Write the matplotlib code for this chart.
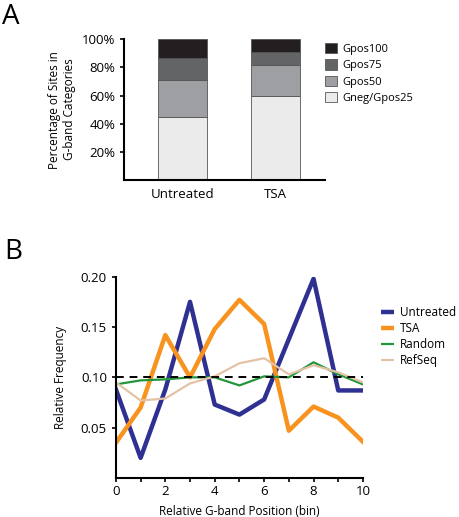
import numpy as np
import matplotlib
matplotlib.use('Agg')
import matplotlib.pyplot as plt
from matplotlib.patches import Patch

plt.rcParams['font.family'] = ['Open Sans', 'DejaVu Sans']
plt.rcParams['font.size'] = 8.5

# panel A data (percent of sites)
groups = ['Untreated', 'TSA']
band_names = ['Gneg/Gpos25', 'Gpos50', 'Gpos75', 'Gpos100']
band_vals = {
    'Gneg/Gpos25': [44.5, 59.6],
    'Gpos50': [26.3, 22.4],
    'Gpos75': [15.9, 9.2],
    'Gpos100': [13.3, 8.8],
}
band_colors = ['#ebebeb', '#9d9fa2', '#636466', '#231f20']

# panel B data
bins = np.arange(11)
untreated = [0.088, 0.020, 0.088, 0.175, 0.073, 0.063, 0.078, 0.138, 0.198, 0.087, 0.087]
tsa = [0.035, 0.070, 0.142, 0.100, 0.148, 0.177, 0.153, 0.047, 0.071, 0.060, 0.036]
random_sites = [0.093, 0.097, 0.098, 0.100, 0.100, 0.092, 0.101, 0.100, 0.115, 0.103, 0.093]
refseq = [0.095, 0.077, 0.079, 0.094, 0.101, 0.114, 0.119, 0.103, 0.112, 0.105, 0.095]
expected = 0.10

fig = plt.figure(figsize=(4.6, 5.17), dpi=100)

# ---- A ----
axA = fig.add_axes([0.27, 0.652, 0.4365, 0.272])
x = np.arange(len(groups))
bottom = np.zeros(len(groups))
for name, c in zip(band_names, band_colors):
    axA.bar(x, band_vals[name], 0.53, bottom=bottom, color=c,
            edgecolor='#555555', linewidth=0.6)
    bottom += np.array(band_vals[name])
axA.set_xlim(-0.63, 1.54)
axA.set_ylim(0, 100)
axA.set_yticks([20, 40, 60, 80, 100])
axA.set_yticklabels(['20%', '40%', '60%', '80%', '100%'], fontsize=9.5)
axA.set_xticks(x)
axA.set_xticklabels(groups, fontsize=9.5)
axA.tick_params(axis='x', length=0, pad=6)
axA.tick_params(axis='y', length=3, width=1.2)
for s in ['top', 'right']:
    axA.spines[s].set_visible(False)
for s in ['left', 'bottom']:
    axA.spines[s].set_linewidth(1.5)
axA.set_ylabel('Percentage of Sites in\nG-band Categories', fontsize=8.5, labelpad=4)
handles = [Patch(facecolor=c, edgecolor='#555555', linewidth=0.6, label=n)
           for n, c in zip(band_names[::-1], band_colors[::-1])]
axA.legend(handles=handles, loc='upper left', bbox_to_anchor=(0.95, 1.045),
           frameon=False, fontsize=8, handlelength=1.05, handleheight=1.05,
           labelspacing=0.4, handletextpad=0.5)

# ---- B ----
axB = fig.add_axes([0.252, 0.0754, 0.537, 0.3894])
axB.plot(bins, untreated, color='#2e3192', lw=3.2, label='Untreated')
axB.plot(bins, tsa, color='#f7931e', lw=3.2, label='TSA')
axB.plot(bins, random_sites, color='#23963c', lw=1.6, label='Random')
axB.plot(bins, refseq, color='#e3c3a6', lw=1.6, label='RefSeq')
axB.plot([bins[0], bins[-1]], [expected, expected], color='black', lw=1.4,
         ls=(0, (4, 3)))
axB.set_xlim(0, 10)
axB.set_ylim(0, 0.2)
axB.set_xticks(np.arange(0, 11, 2))
axB.set_xticks(np.arange(1, 11, 2), minor=True)
axB.set_yticks([0.05, 0.10, 0.15, 0.20])
axB.set_yticklabels(['0.05', '0.10', '0.15', '0.20'])
axB.tick_params(axis='both', which='both', length=3, width=1.2, labelsize=9.5)
axB.tick_params(axis='x', pad=2)
for s in ['top', 'right']:
    axB.spines[s].set_visible(False)
for s in ['left', 'bottom']:
    axB.spines[s].set_linewidth(1.5)
axB.set_ylabel('Relative Frequency', fontsize=8.5, labelpad=10)
axB.set_xlabel('Relative G-band Position (bin)', fontsize=8.5, labelpad=5)
leg = axB.legend(loc='upper left', bbox_to_anchor=(1.03, 0.905), frameon=False,
                 fontsize=8.5, handlelength=1.1, labelspacing=0.25, handletextpad=0.5)
for ln in leg.get_lines():
    ln.set_solid_capstyle('butt')

fig.text(0.005, 0.995, 'A', fontsize=20, va='top', ha='left')
fig.text(0.01, 0.54, 'B', fontsize=20, va='top', ha='left')

fig.savefig('out.png', dpi=100)
